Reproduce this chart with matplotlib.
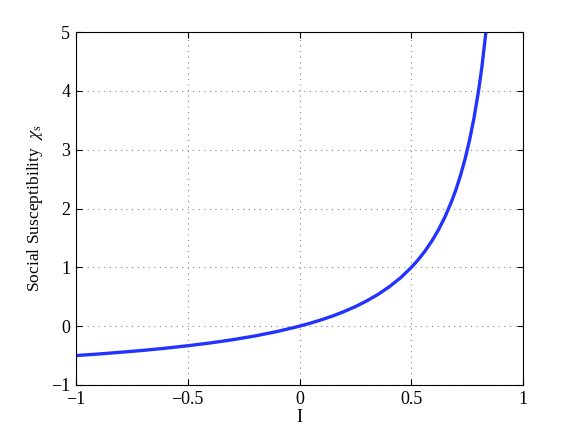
import numpy as np
import matplotlib
matplotlib.use("Agg")
import matplotlib.pyplot as plt

# values
inf_I = [-1.0, -0.9, -0.8, -0.7, -0.6, -0.5, -0.4, -0.3, -0.2, -0.1, 0.0,
         0.05, 0.1, 0.15, 0.2, 0.25, 0.3, 0.35, 0.4, 0.45, 0.5,
         0.53, 0.56, 0.59, 0.62, 0.65, 0.68, 0.7, 0.72, 0.74, 0.76,
         0.78, 0.8, 0.815, 0.833]
chi_s = [-0.5, -0.474, -0.444, -0.412, -0.375, -0.333, -0.286, -0.231, -0.167, -0.091, 0.0,
         0.053, 0.111, 0.176, 0.25, 0.333, 0.429, 0.538, 0.667, 0.818, 1.0,
         1.128, 1.273, 1.439, 1.632, 1.857, 2.125, 2.333, 2.571, 2.846, 3.167,
         3.545, 4.0, 4.405, 5.0]

xticks = [-1, -0.5, 0, 0.5, 1]
xtick_labels = ["\u22121", "\u22120.5", "0", "0.5", "1"]
yticks = [-1, 0, 1, 2, 3, 4, 5]
ytick_labels = ["\u22121", "0", "1", "2", "3", "4", "5"]

plt.rcParams['font.family'] = ['Liberation Serif', 'DejaVu Serif']
plt.rcParams['mathtext.fontset'] = 'stix'
plt.rcParams['font.size'] = 13

fig = plt.figure(figsize=(5.84, 4.34), dpi=100)
ax = fig.add_axes([0.13, 0.113, 0.766, 0.813])

ax.plot(inf_I, chi_s, color='#2233ff', linewidth=2.4, solid_joinstyle='round')

ax.set_xlim(-1, 1)
ax.set_ylim(-1, 5)
ax.set_xticks(xticks)
ax.set_xticklabels(xtick_labels)
ax.set_yticks(yticks)
ax.set_yticklabels(ytick_labels)
ax.grid(True, linestyle=(0, (1, 4)), color='#888888', linewidth=0.8)
ax.tick_params(direction='in', top=True, right=True, length=4, width=0.8, pad=4)
for s in ax.spines.values():
    s.set_linewidth(0.8)

ax.set_xlabel("I", labelpad=1)

fig.text(0.0668, 0.327, "Social Susceptibility  $\\chi_{\\rm s}$", rotation=90,
         rotation_mode='anchor', ha='left', va='baseline', fontsize=12.6)

fig.savefig("out.png", dpi=100)
